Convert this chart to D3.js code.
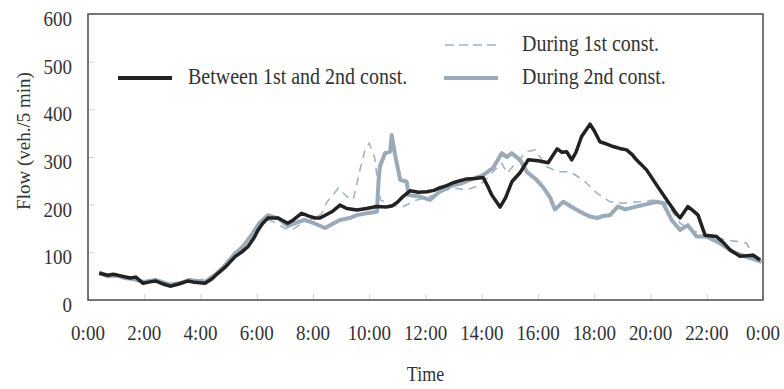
<!DOCTYPE html>
<html>
<head>
<meta charset="utf-8">
<script src="https://cdn.jsdelivr.net/npm/d3@7"></script>
<style>
  body { margin: 0; background: #fff; }
  text { font-family: "Liberation Serif", "Times New Roman", serif; fill: #333; }
</style>
</head>
<body>
<script>
// hours of day and flow (veh./5 min)
var betweenT = [0.4,0.7,0.9,1.2,1.5,1.7,1.96,2.2,2.4,2.7,2.92,3.2,3.56,3.8,4.16,4.4,4.62,4.9,5.23,5.45,5.69,5.9,6.05,6.2,6.4,6.76,7.1,7.3,7.6,7.85,8.07,8.25,8.67,8.96,9.2,9.56,9.9,10.27,10.6,10.8,11.0,11.2,11.45,11.75,12.05,12.3,12.5,12.75,12.98,13.2,13.47,13.75,14.05,14.2,14.36,14.65,14.85,15.07,15.36,15.65,16.0,16.36,16.68,16.85,17.02,17.2,17.35,17.55,17.85,18.0,18.2,18.45,18.67,18.9,19.15,19.35,19.5,19.86,20.22,20.58,20.87,21.05,21.33,21.5,21.69,21.94,22.35,22.6,22.83,23.18,23.65,23.9];
var betweenV = [56,52,54,50,46,48,35,38,40,33,29,33,40,37,35,44,56,70,91,100,112,130,147,160,172,172,161,168,182,176,172,172,185,199,192,189,192,196,195,197,205,217,229,226,227,230,235,240,246,250,254,255,257,240,220,195,215,248,267,294,292,288,317,310,311,294,310,343,369,355,332,327,322,318,315,305,294,273,241,210,185,172,196,188,178,136,133,120,105,92,94,84];

var during1T = [0.4,0.8,1.2,1.6,2.0,2.5,3.0,3.5,4.0,4.4,4.8,5.2,5.6,6.0,6.3,6.7,7.0,7.24,7.6,8.0,8.3,8.49,8.7,8.9,9.2,9.43,9.67,9.85,10.0,10.2,10.3,10.4,10.8,11.2,11.69,12.16,12.6,12.98,13.46,13.94,14.4,14.71,14.9,15.1,15.6,15.9,16.3,16.7,17.14,17.6,18.1,18.56,19.0,19.6,20.22,20.58,21.05,21.5,22.0,22.7,23.18,23.42,23.6,23.95];
var during1V = [54,48,50,42,40,38,34,38,42,50,65,92,118,150,170,162,150,147,160,170,180,205,220,235,217,210,273,315,329,297,245,210,198,196,210,217,228,235,231,241,269,287,266,280,311,315,280,269,269,252,224,206,203,206,210,203,161,145,136,126,122,119,98,85];

var during2T = [0.4,0.7,1.0,1.3,1.6,1.96,2.4,2.92,3.3,3.6,4.16,4.5,4.8,5.2,5.5,5.8,6.1,6.4,6.8,7.1,7.3,7.7,8.0,8.43,8.7,8.96,9.3,9.56,9.9,10.27,10.33,10.38,10.56,10.74,10.8,10.92,11.1,11.33,11.4,11.8,12.16,12.5,12.98,13.3,13.58,14.05,14.4,14.71,14.9,15.06,15.36,15.6,15.95,16.2,16.43,16.6,16.9,17.2,17.6,17.85,18.1,18.3,18.56,18.84,19.1,19.5,19.8,20.22,20.45,20.75,21.05,21.33,21.64,22.0,22.47,22.93,23.4,23.95];
var during2V = [58,50,52,46,44,38,42,32,36,42,38,52,68,96,112,135,162,178,170,155,160,168,162,151,160,168,172,178,182,185,250,280,308,311,346,304,252,248,220,217,210,227,241,245,252,262,277,308,300,308,294,269,252,235,215,190,206,195,182,175,172,176,178,196,190,196,200,206,203,168,147,157,133,133,119,101,91,80];

var yTicks = [0,100,200,300,400,500,600];
var xTicks = [0,2,4,6,8,10,12,14,16,18,20,22,24];
var xTickLabels = ["0:00","2:00","4:00","6:00","8:00","10:00","12:00","14:00","16:00","18:00","20:00","22:00","0:00"];

var legendNames = ["Between 1st and 2nd const.","During 1st const.","During 2nd const."];

var w = 784, h = 389;
var pL = 88, pR = 763, pT = 14, pB = 300;

var svg = d3.select("body").append("svg")
    .attr("width", w)
    .attr("height", h);

var x = d3.scaleLinear().domain([0,24]).range([pL,pR]);
var y = d3.scaleLinear().domain([0,600]).range([pB,pT]);

// inward ticks
var xAxis = d3.axisTop(x).tickValues(xTicks).tickSize(6).tickFormat("");
svg.append("g").attr("transform","translate(0,"+pB+")").call(xAxis)
   .call(function(g){ g.select(".domain").remove(); })
   .selectAll("line").attr("stroke","#c9d3de");

var yAxis = d3.axisRight(y).tickValues(yTicks).tickSize(6).tickFormat("");
svg.append("g").attr("transform","translate("+pL+",0)").call(yAxis)
   .call(function(g){ g.select(".domain").remove(); })
   .selectAll("line").attr("stroke","#c9d3de");

// tick labels (text in the original is a bit tall, so stretch it)
svg.selectAll(".ylab").data(yTicks).enter().append("text")
   .attr("text-anchor","end")
   .attr("font-size","19px")
   .attr("transform", function(d){ return "translate(72," + (y(d) + 12) + ") scale(1,1.12)"; })
   .text(function(d){ return d; });

svg.selectAll(".xlab").data(xTicks).enter().append("text")
   .attr("text-anchor","middle")
   .attr("font-size","19px")
   .attr("transform", function(d){ return "translate(" + x(d) + ",340) scale(1,1.12)"; })
   .text(function(d,i){ return xTickLabels[i]; });

svg.append("text")
   .attr("transform","translate(" + ((pL+pR)/2) + ",381) scale(1,1.12)")
   .attr("text-anchor","middle")
   .attr("font-size","18px")
   .text("Time");

svg.append("text")
   .attr("transform","translate(30,141) rotate(-90)")
   .attr("text-anchor","middle")
   .attr("font-size","19px")
   .text("Flow (veh./5 min)");

// lines
var line = d3.line()
    .x(function(d){ return x(d[0]); })
    .y(function(d){ return y(d[1]); });

var d1 = d3.zip(during1T, during1V);
var d2 = d3.zip(during2T, during2V);
var bt = d3.zip(betweenT, betweenV);

svg.append("path").datum(d1)
   .attr("d", line)
   .attr("fill","none")
   .attr("stroke","#a3b3c4")
   .attr("stroke-width",1.6)
   .attr("stroke-dasharray","8,6");

svg.append("path").datum(d2)
   .attr("d", line)
   .attr("fill","none")
   .attr("stroke","#9aaab8")
   .attr("stroke-width",4)
   .attr("stroke-linejoin","round");

svg.append("path").datum(bt)
   .attr("d", line)
   .attr("fill","none")
   .attr("stroke","#222")
   .attr("stroke-width",3.5)
   .attr("stroke-linejoin","round");

// frame
svg.append("rect")
   .attr("x", pL).attr("y", pT)
   .attr("width", pR-pL).attr("height", pB-pT)
   .attr("fill","none")
   .attr("stroke","#555")
   .attr("stroke-width",1.6);

// legend
var leg = [
  {x1:118, x2:172, y:78, tx:188, color:"#222", sw:4, dash:null},
  {x1:445, x2:497, y:45, tx:522, color:"#a3b3c4", sw:1.6, dash:"9,5"},
  {x1:444, x2:498, y:78, tx:522, color:"#9aaab8", sw:4, dash:null}
];
leg.forEach(function(l,i){
  svg.append("line")
     .attr("x1", l.x1).attr("x2", l.x2)
     .attr("y1", l.y).attr("y2", l.y)
     .attr("stroke", l.color)
     .attr("stroke-width", l.sw)
     .attr("stroke-dasharray", l.dash);
  svg.append("text")
     .attr("transform", "translate(" + l.tx + "," + (l.y + 6) + ") scale(1,1.12)")
     .attr("font-size","20px")
     .text(legendNames[i]);
});
</script>
</body>
</html>
